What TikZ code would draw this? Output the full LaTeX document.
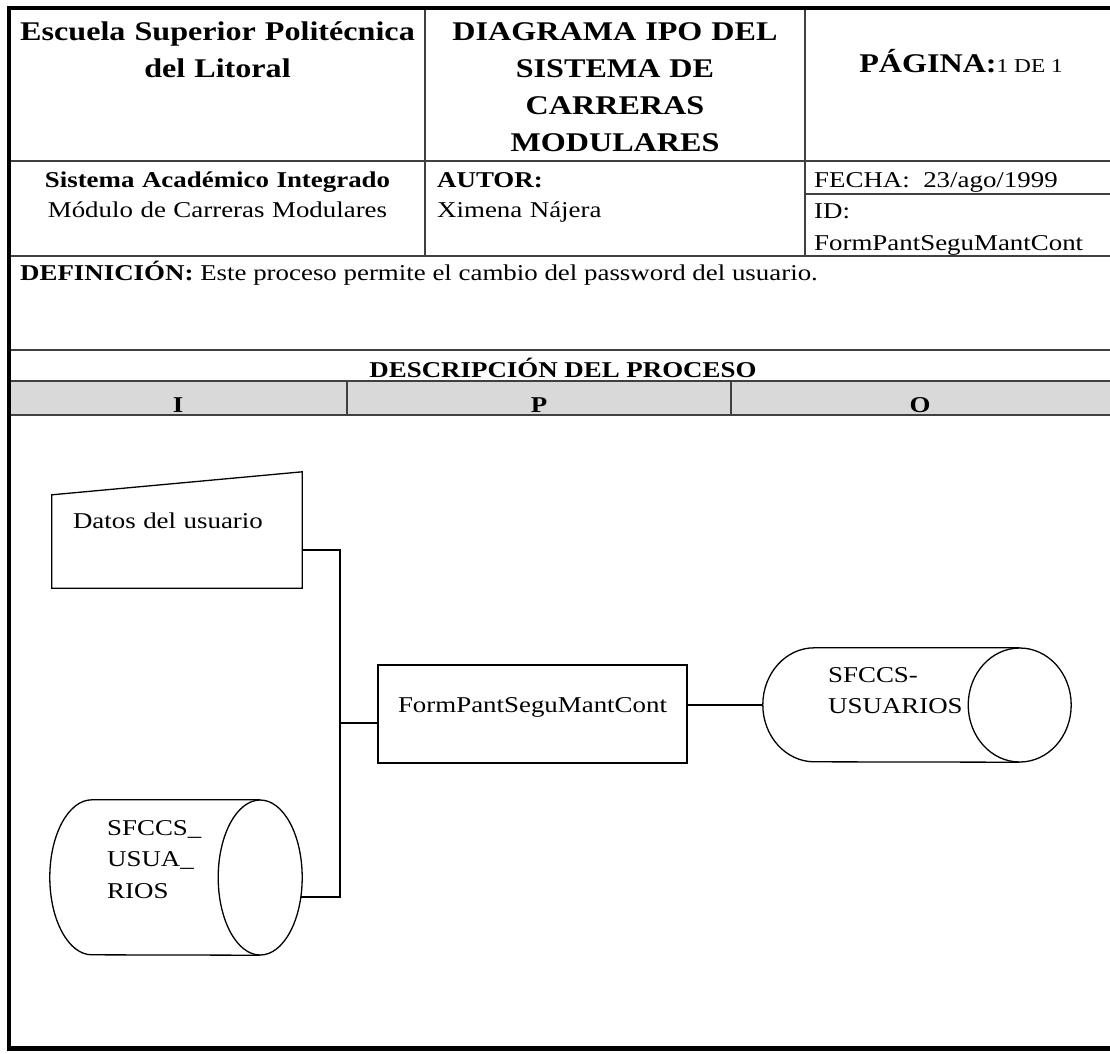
\documentclass[tikz,border=0pt]{standalone}
\usepackage{fontspec}
\setmainfont[FakeStretch=1.19]{Liberation Serif}

\newcommand\cabecera{\fontsize{27}{37.3}\selectfont\bfseries}
\newcommand\cuerpo{\fontsize{22.6}{30}\selectfont}

\begin{document}
\begin{tikzpicture}[x=1pt,y=-1pt,
    marco/.style={line width=4pt},
    rejilla/.style={line width=1.1pt,black!75},
    linea/.style={line width=1.3pt},
    texto/.style={inner sep=0pt,font=\cuerpo},
    caja/.style={inner sep=0pt,minimum width=#1}]
  \useasboundingbox (0,0) rectangle (1110,1053);
  \clip (0,0) rectangle (1110,1053);

  % rejilla de la cabecera
  \fill[black!15] (10,381) rectangle (1112,415);
  \foreach \y in {161,256,350,381,415}
    \draw[rejilla] (10,\y) -- (1112,\y);
  \draw[rejilla] (805,194) -- (1112,194);
  \draw[rejilla] (425,8) -- (425,256);
  \draw[rejilla] (805,8) -- (805,256);
  \draw[rejilla] (347,381) -- (347,415);
  \draw[rejilla] (731,381) -- (731,415);

  % marco
  \draw[marco] (8.5,7.5) -- (1112,7.5);
  \draw[marco] (8.5,5.5) -- (8.5,1050);
  \draw[line width=5pt] (6.5,1048) -- (1112,1048);

  % textos de la cabecera
  \node[texto,font=\cabecera,align=center,text width=400pt,anchor=base] (escuela) at (217.5,40)
    {Escuela Superior Politécnica\\del Litoral};
  \node[texto,font=\cabecera,align=center,text width=370pt,anchor=base] (titulo) at (615,40)
    {DIAGRAMA IPO DEL\\SISTEMA DE\\CARRERAS\\MODULARES};
  \node[texto,anchor=base] (pagina) at (961,72)
    {{\cabecera PÁGINA:}{\fontsize{19.6}{24}\selectfont 1 DE 1}};
  \node[texto,align=center,text width=400pt,anchor=base] (sistema) at (217.5,187)
    {\textbf{Sistema Académico Integrado}\\Módulo de Carreras Modulares};
  \node[texto,align=left,text width=360pt,anchor=base west] (autor) at (437,187)
    {\textbf{AUTOR:}\\Ximena Nájera};
  \node[texto,anchor=base west] (fecha) at (814,187) {FECHA:\ \ 23/ago/1999};
  \node[texto,font=\fontsize{22.6}{32}\selectfont,align=left,text width=290pt,anchor=base west] (ident) at (814,218)
    {ID:\\FormPantSeguMantCont};
  \node[texto,anchor=base west] (definicion) at (20,280)
    {\textbf{DEFINICIÓN:} Este proceso permite el cambio del password del usuario.};
  \node[texto,font=\cuerpo\bfseries,anchor=base] (descripcion) at (563,377) {DESCRIPCIÓN DEL PROCESO};
  \foreach \x/\l in {178/I,539/P,920/O}
    \node[texto,font=\cuerpo\bfseries,anchor=base] (col\l) at (\x,412) {\l};

  % diagrama IPO
  \node[texto,text width=208pt,inner xsep=21pt,align=left,text height=33pt,text depth=60pt] (datos) at (177,541.5)
    {Datos del usuario};
  \draw[linea] (datos.south west) -- (datos.south east) -- ([yshift=23pt]datos.north east)
    -- (datos.north west) -- cycle;
  \node[texto,draw,linea,minimum width=309pt,text height=47pt,text depth=51pt] (proceso) at (532.5,714)
    {FormPantSeguMantCont};

  % almacenamiento de salida
  \node[caja=308pt,minimum height=114pt] (usuarios) at (917,705) {};
  \draw[linea] ([xshift=-51.5pt]usuarios.north east) -- ([xshift=51.5pt]usuarios.north west)
    arc[start angle=90,end angle=270,x radius=51.5pt,y radius=57pt]
    -- ([xshift=-51.5pt]usuarios.south east);
  \draw[linea] ([xshift=-51.5pt]usuarios.east) ellipse[x radius=51.5pt,y radius=57pt];
  \node[texto,font=\fontsize{22.6}{31}\selectfont,align=left,text width=150pt,anchor=base west] (usuariostxt) at (828,682)
    {SFCCS-\\USUARIOS};

  % almacenamiento de entrada
  \node[caja=252pt,minimum height=155pt] (sfccs) at (176,877.5) {};
  \draw[linea] ([xshift=-42pt]sfccs.north east) -- ([xshift=42pt]sfccs.north west)
    arc[start angle=90,end angle=270,x radius=42pt,y radius=77.5pt]
    -- ([xshift=-42pt]sfccs.south east);
  \draw[linea] ([xshift=-42pt]sfccs.east) ellipse[x radius=42pt,y radius=77.5pt];
  \node[texto,font=\fontsize{22.6}{31.5}\selectfont,align=left,text width=120pt,anchor=base west] (sfccstxt) at (107,835)
    {SFCCS\_\\USUA\_\\RIOS};

  % conectores
  \coordinate (union) at (340,723);
  \draw[linea] ([yshift=-8.5pt]datos.east) -| (union) |- ([xshift=-1.5pt,yshift=-19.5pt]sfccs.east);
  \draw[linea] (union) -- (union -| proceso.west);
  \draw[linea] (proceso.east |- usuarios.west) -- (usuarios.west);
\end{tikzpicture}
\end{document}
